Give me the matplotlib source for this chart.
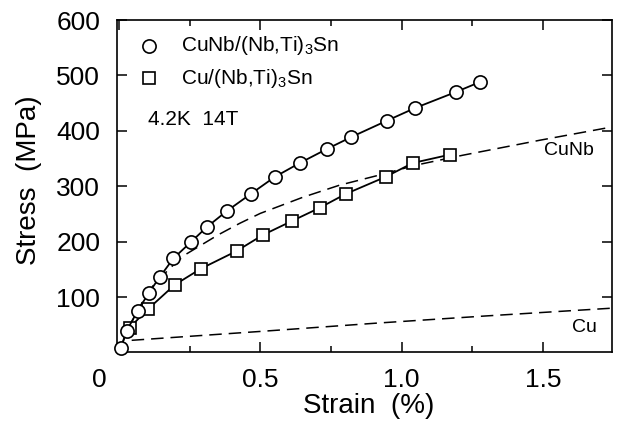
import numpy as np
import matplotlib
matplotlib.use("Agg")
import matplotlib.pyplot as plt
from matplotlib.transforms import ScaledTranslation

plt.rcParams['font.family'] = ['Liberation Sans', 'DejaVu Sans']
plt.rcParams['mathtext.default'] = 'regular'
plt.rcParams['lines.scale_dashes'] = False

# CuNb/(Nb,Ti)3Sn  (circles)
cunb_x = [0.006, 0.027, 0.066, 0.105, 0.144, 0.193, 0.254, 0.310, 0.381, 0.466,
          0.552, 0.640, 0.735, 0.823, 0.947, 1.047, 1.192, 1.277]
cunb_y = [8, 39, 75, 107, 136, 170, 199, 226, 255, 286,
          317, 342, 367, 389, 418, 441, 470, 488]

# Cu/(Nb,Ti)3Sn  (squares)
cu_x = [0.038, 0.102, 0.197, 0.289, 0.416, 0.509, 0.611, 0.710, 0.802, 0.944, 1.040, 1.171]
cu_y = [45, 78, 122, 151, 183, 212, 237, 261, 286, 317, 342, 357]

# dashed reference curves
ref_cunb_x = [0.006, 0.03, 0.07, 0.12, 0.18, 0.233, 0.35, 0.427, 0.50, 0.65, 0.781, 0.92, 1.05, 1.217, 1.489, 1.745]
ref_cunb_y = [8, 40, 80, 120, 152, 176, 212, 233, 251, 280, 302, 320, 338, 356, 383, 407]
ref_cu_x = [0.045, 0.5, 0.912, 1.3, 1.745]
ref_cu_y = [22, 38, 53, 66, 80]

fig = plt.figure(figsize=(6.18, 4.25), dpi=100)
ax = fig.add_axes([0.1893, 0.1706, 0.801, 0.7823])

ax.plot(ref_cunb_x, ref_cunb_y, color='black', lw=1.1, dashes=(9, 5), zorder=2)
ax.plot(ref_cu_x, ref_cu_y, color='black', lw=1.1, dashes=(9, 5), zorder=2)

ax.plot(cu_x, cu_y, color='black', lw=1.3, marker='s', ms=8.5, mfc='white',
        mec='black', mew=1.2, zorder=3, clip_on=False)
ax.plot(cunb_x, cunb_y, color='black', lw=1.3, marker='o', ms=9.5, mfc='white',
        mec='black', mew=1.2, zorder=4, clip_on=False)

ax.set_xlim(-0.007, 1.745)
ax.set_ylim(0, 600)
ax.set_xticks([0, 0.5, 1.0, 1.5])
ax.set_xticklabels(['0', '0.5', '1.0', '1.5'])
ax.set_xticks([0.25, 0.75, 1.25], minor=True)
ax.set_yticks([100, 200, 300, 400, 500, 600])
ax.tick_params(which='both', direction='in', top=True, right=True, width=1.1)
ax.tick_params(which='major', length=7, labelsize=19)
ax.tick_params(which='minor', length=4)
ax.tick_params(axis='x', pad=11)
ax.tick_params(axis='y', pad=12)
for s in ax.spines.values():
    s.set_linewidth(1.2)

# origin label sits left of the corner
lab0 = ax.get_xticklabels()[0]
lab0.set_transform(lab0.get_transform() + ScaledTranslation(-0.20, 0, fig.dpi_scale_trans))

ax.set_xlabel('Strain  (%)', fontsize=20)
ax.set_ylabel('Stress  (MPa)', fontsize=20)
ax.xaxis.set_label_coords(0.509, -0.122)
ax.yaxis.set_label_coords(-0.152, 0.519)

# legend drawn by hand
ax.plot([0.105], [554], marker='o', ms=9.5, mfc='white', mec='black', mew=1.2, ls='none')
ax.plot([0.105], [495], marker='s', ms=8.5, mfc='white', mec='black', mew=1.2, ls='none')
ax.text(0.218, 554, r'CuNb/(Nb,Ti)$_3$Sn', fontsize=15, va='center', ha='left')
ax.text(0.218, 495, r'Cu/(Nb,Ti)$_3$Sn', fontsize=15, va='center', ha='left')
ax.text(0.103, 420, '4.2K  14T', fontsize=15, va='center', ha='left')
ax.text(1.68, 364, 'CuNb', fontsize=14, va='center', ha='right')
ax.text(1.69, 46, 'Cu', fontsize=14, va='center', ha='right')

fig.savefig('out.png', dpi=100)
